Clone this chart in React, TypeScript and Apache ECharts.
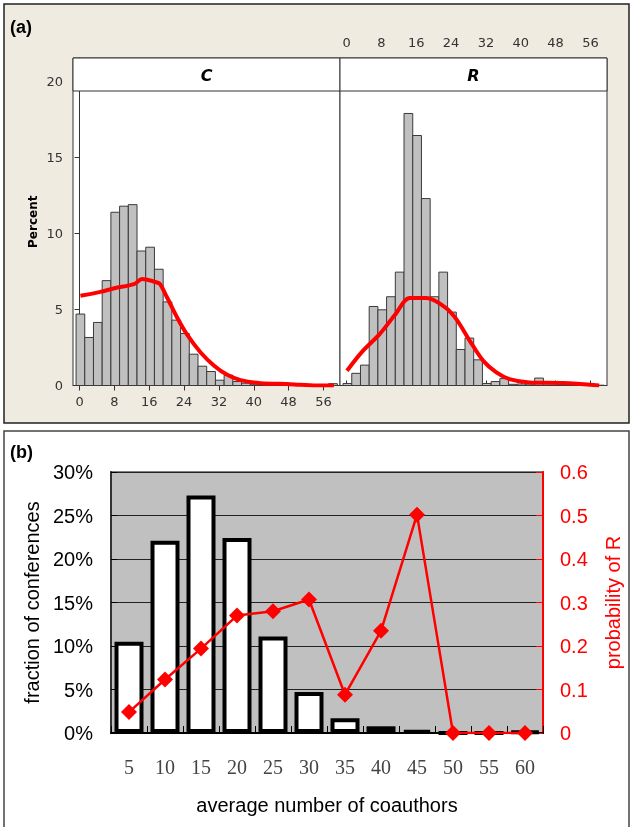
import React, { useEffect, useRef } from "react";
import * as echarts from "echarts";

// ---------- Panel (a) data ----------
const binStart = -0.8;
const binWidth = 2;
const cHist = [4.7, 3.16, 4.15, 6.9, 11.4, 11.8, 11.9, 8.85, 9.1, 7.65, 5.5, 4.3, 3.42, 2.06, 1.27, 0.92, 0.35, 0.68, 0.26, 0.15, 0.05, 0.05, 0.03, 0.03, 0.02, 0.02, 0.02, 0.02, 0.05, 0.12];
const rHist = [0.13, 0.8, 1.34, 5.2, 4.98, 5.84, 7.46, 17.9, 16.45, 12.3, 5.84, 7.46, 4.83, 2.37, 3.12, 1.69, 0.13, 0.26, 0.45, 0.08, 0.1, 0.1, 0.49, 0.03, 0.02, 0.02, 0.02, 0.02, 0.02, 0.02];
const cCurve = [[0.2, 5.9], [4.8, 6.16], [8, 6.4], [12.5, 6.67], [14.4, 7.0], [17.8, 6.78], [18.5, 6.67], [20.1, 5.79], [22.4, 4.47], [24.7, 3.34], [27.8, 2.17], [30.9, 1.3], [33.9, 0.7], [37, 0.35], [41.6, 0.15], [48.4, 0.09], [54.4, 0.0], [58.4, 0.0]];
const rCurve = [[0.1, 0.97], [3.5, 2.2], [7.6, 3.38], [11, 4.6], [14.5, 5.75], [18.3, 5.75], [22.5, 5.18], [25.2, 4.37], [28.3, 2.94], [31.4, 1.62], [34.4, 0.86], [37.4, 0.42], [42, 0.2], [49.6, 0.16], [58, 0.0]];
const aTicks = [0, 8, 16, 24, 32, 40, 48, 56];

// ---------- Panel (b) data ----------
const categories = ["5", "10", "15", "20", "25", "30", "35", "40", "45", "50", "55", "60"];
const fraction = [10.5, 22.1, 27.3, 22.4, 11.1, 4.7, 1.7, 0.77, 0.3, 0, 0, 0.15];
const probR = [0.048, 0.123, 0.194, 0.27, 0.28, 0.307, 0.088, 0.235, 0.502, 0, 0, 0];

const histData = (vals: number[]) =>
  vals.map((v, i) => [binStart + i * binWidth, binStart + (i + 1) * binWidth, v]);

const renderBin = (params: any, api: any) => {
  const x0 = api.value(0);
  const x1 = api.value(1);
  const v = api.value(2);
  const p0 = api.coord([x0, v]);
  const p1 = api.coord([x1, 0]);
  return {
    type: "rect",
    shape: { x: p0[0], y: p0[1], width: p1[0] - p0[0], height: p1[1] - p0[1] },
    style: { fill: "#c0c0c0", stroke: "#3a3a3a", lineWidth: 1 },
  };
};

const aFont = "DejaVu Sans";
const bFont = "Liberation Sans";

export default function App() {
  const ref = useRef<HTMLDivElement>(null);
  useEffect(() => {
    if (!ref.current) return;
    const chart = echarts.init(ref.current, undefined, { renderer: "svg" });
    const xRange = { min: -1.5, max: 59.8 };
    const yMaxA = 21.55;
    chart.setOption({
      animation: false,
      grid: [
        { left: 73, top: 58, width: 267, height: 327.5, show: true, backgroundColor: "#fff", borderColor: "#333", borderWidth: 1 },
        { left: 340, top: 58, width: 267, height: 327.5, show: true, backgroundColor: "#fff", borderColor: "#333", borderWidth: 1 },
        { left: 111, top: 472, width: 435, height: 261, show: true, backgroundColor: "#c0c0c0", borderColor: "#808080", borderWidth: 2 },
      ],
      xAxis: [
        {
          type: "value", gridIndex: 0, position: "bottom", ...xRange,
          axisLine: { show: true, lineStyle: { color: "#333" } },
          axisTick: { show: true, length: 5, lineStyle: { color: "#333" }, customValues: aTicks },
          axisLabel: { show: true, margin: 9, fontFamily: aFont, fontSize: 13, color: "#333", customValues: aTicks },
          splitLine: { show: false },
        },
        {
          type: "value", gridIndex: 1, position: "top", ...xRange,
          axisLine: { show: true, lineStyle: { color: "#333" } },
          axisTick: { show: true, length: 5, lineStyle: { color: "#333" }, customValues: aTicks },
          axisLabel: { show: true, margin: 9, fontFamily: aFont, fontSize: 13, color: "#333", customValues: aTicks },
          splitLine: { show: false },
        },
        {
          type: "category", gridIndex: 2, data: categories, position: "bottom",
          axisLine: { show: true, lineStyle: { color: "#000", width: 2 } },
          axisTick: { show: true, inside: true, length: 7, lineStyle: { color: "#000", width: 1 } },
          axisLabel: { margin: 24, fontFamily: "Liberation Serif", fontSize: 20, color: "#444" },
          name: "average number of coauthors", nameLocation: "middle", nameGap: 62,
          nameTextStyle: { fontFamily: bFont, fontSize: 20, color: "#000" },
        },
      ],
      yAxis: [
        {
          type: "value", gridIndex: 0, min: 0, max: yMaxA, interval: 5,
          axisLine: { show: true, lineStyle: { color: "#333" } },
          axisTick: { show: true, length: 5, lineStyle: { color: "#333" } },
          axisLabel: { margin: 10, fontFamily: aFont, fontSize: 13, color: "#333", showMaxLabel: false },
          splitLine: { show: false },
          name: "Percent", nameLocation: "middle", nameGap: 34,
          nameTextStyle: { fontFamily: aFont, fontSize: 12, fontWeight: "bold", color: "#000" },
        },
        {
          type: "value", gridIndex: 1, min: 0, max: yMaxA, interval: 5,
          axisLine: { show: false }, axisTick: { show: false }, axisLabel: { show: false }, splitLine: { show: false },
        },
        {
          type: "value", gridIndex: 2, min: 0, max: 30, interval: 5, position: "left",
          axisLine: { show: true, lineStyle: { color: "#333", width: 2 } },
          axisTick: { show: true, inside: true, length: 6, lineStyle: { color: "#000" } },
          axisLabel: { margin: 18, fontFamily: bFont, fontSize: 20, color: "#000", formatter: "{value}%" },
          splitLine: { show: true, lineStyle: { color: "#222", width: 1 } },
          name: "fraction of conferences", nameLocation: "middle", nameGap: 68,
          nameTextStyle: { fontFamily: bFont, fontSize: 20, color: "#000" },
        },
        {
          type: "value", gridIndex: 2, min: 0, max: 0.6, interval: 0.1, position: "right",
          axisLine: { show: true, lineStyle: { color: "#ff0000", width: 2 } },
          axisTick: { show: true, inside: true, length: 7, lineStyle: { color: "#ff0000", width: 1 } },
          axisLabel: { margin: 17, fontFamily: bFont, fontSize: 20, color: "#ff0000" },
          splitLine: { show: false },
          name: "probability of R", nameLocation: "middle", nameGap: 60, nameRotate: 90,
          nameTextStyle: { fontFamily: bFont, fontSize: 20, color: "#ff0000" },
        },
      ],
      series: [
        { type: "custom", xAxisIndex: 0, yAxisIndex: 0, renderItem: renderBin, data: histData(cHist), encode: { x: [0, 1], y: 2 } },
        { type: "custom", xAxisIndex: 1, yAxisIndex: 1, renderItem: renderBin, data: histData(rHist), encode: { x: [0, 1], y: 2 } },
        { type: "line", xAxisIndex: 0, yAxisIndex: 0, data: cCurve, smooth: 0.3, showSymbol: false, symbol: "none", lineStyle: { color: "#ff0000", width: 4 }, z: 5 },
        { type: "line", xAxisIndex: 1, yAxisIndex: 1, data: rCurve, smooth: 0.3, showSymbol: false, symbol: "none", lineStyle: { color: "#ff0000", width: 4 }, z: 5 },
        {
          type: "bar", xAxisIndex: 2, yAxisIndex: 2, data: fraction, barWidth: 29,
          itemStyle: { color: "#ffffff", borderColor: "#000", borderWidth: 4 }, z: 3,
        },
        {
          type: "line", xAxisIndex: 2, yAxisIndex: 3, data: probR, symbol: "diamond", symbolSize: 16,
          lineStyle: { color: "#ff0000", width: 2.5 }, itemStyle: { color: "#ff0000" }, z: 6,
        },
      ],
      graphic: [
        { type: "rect", z: -100, shape: { x: 4, y: 4, width: 625, height: 419 }, style: { fill: "#efebe1", stroke: "#222", lineWidth: 1.5 } },
        { type: "rect", z: -100, shape: { x: 4, y: 431, width: 625, height: 410 }, style: { fill: "#ffffff", stroke: "#444", lineWidth: 1.5 } },
        { type: "rect", z: 100, shape: { x: 73, y: 58, width: 267, height: 33 }, style: { fill: "#ffffff", stroke: "#333", lineWidth: 1 } },
        { type: "rect", z: 100, shape: { x: 340, y: 58, width: 267, height: 33 }, style: { fill: "#ffffff", stroke: "#333", lineWidth: 1 } },
        { type: "text", z: 101, x: 206.5, y: 75, style: { text: "C", fontFamily: aFont, fontSize: 16, fontWeight: "bold", fontStyle: "italic", fill: "#000", align: "center", verticalAlign: "middle" } },
        { type: "text", z: 101, x: 473.5, y: 75, style: { text: "R", fontFamily: aFont, fontSize: 16, fontWeight: "bold", fontStyle: "italic", fill: "#000", align: "center", verticalAlign: "middle" } },
        { type: "text", z: 101, x: 10, y: 27, style: { text: "(a)", fontFamily: bFont, fontSize: 18, fontWeight: "bold", fill: "#000", verticalAlign: "middle" } },
        { type: "text", z: 101, x: 10, y: 452, style: { text: "(b)", fontFamily: bFont, fontSize: 18, fontWeight: "bold", fill: "#000", verticalAlign: "middle" } },
      ],
    });
    return () => chart.dispose();
  }, []);
  return <div ref={ref} style={{ position: "fixed", left: 0, top: 0, width: 631, height: 827 }} />;
}
